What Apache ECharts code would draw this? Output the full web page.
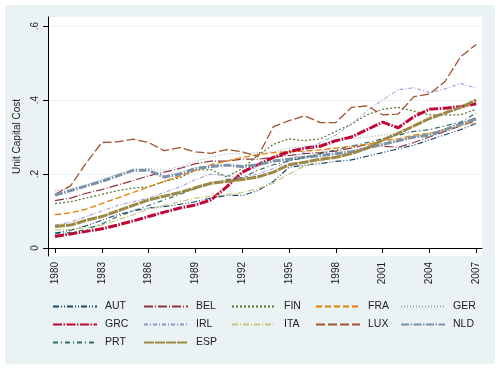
<!DOCTYPE html>
<html>
<head>
<meta charset="utf-8">
<script src="https://cdn.jsdelivr.net/npm/echarts@6/dist/echarts.min.js"></script>
<style>html,body{margin:0;padding:0;background:#fff}#c{width:500px;height:370px}</style>
</head>
<body>
<div id="c"></div>
<script>
var years = [1980,1981,1982,1983,1984,1985,1986,1987,1988,1989,1990,1991,1992,1993,1994,1995,1996,1997,1998,1999,2000,2001,2002,2003,2004,2005,2006,2007];
var xTicks = [1980,1983,1986,1989,1992,1995,1998,2001,2004,2007];
var yTicks = [0,0.2,0.4,0.6];
var yTickLabels = ['0','.2','.4','.6'];

var AUT = [0.040,0.048,0.060,0.075,0.090,0.100,0.108,0.112,0.118,0.125,0.135,0.142,0.142,0.155,0.180,0.218,0.224,0.228,0.234,0.238,0.248,0.258,0.268,0.278,0.292,0.306,0.320,0.337];
var BEL = [0.128,0.135,0.148,0.158,0.170,0.182,0.195,0.205,0.215,0.228,0.235,0.235,0.240,0.240,0.245,0.250,0.255,0.258,0.262,0.270,0.280,0.275,0.272,0.285,0.300,0.315,0.330,0.345];
var FIN = [0.120,0.125,0.135,0.145,0.155,0.162,0.165,0.180,0.190,0.210,0.212,0.192,0.215,0.250,0.280,0.295,0.290,0.295,0.315,0.335,0.360,0.375,0.380,0.370,0.360,0.360,0.360,0.375];
var FRA = [0.090,0.095,0.105,0.120,0.135,0.150,0.165,0.180,0.195,0.210,0.225,0.235,0.245,0.252,0.258,0.260,0.262,0.265,0.270,0.275,0.280,0.290,0.295,0.305,0.310,0.320,0.330,0.350];
var GER = [0.155,0.160,0.170,0.185,0.200,0.210,0.215,0.210,0.220,0.235,0.245,0.255,0.255,0.258,0.260,0.270,0.275,0.280,0.290,0.295,0.300,0.305,0.310,0.315,0.320,0.330,0.340,0.350];
var GRC = [0.031,0.038,0.045,0.052,0.062,0.073,0.085,0.097,0.108,0.116,0.130,0.165,0.205,0.225,0.245,0.260,0.270,0.275,0.290,0.300,0.320,0.340,0.325,0.355,0.375,0.378,0.382,0.390];
var IRL = [0.062,0.070,0.085,0.100,0.115,0.125,0.135,0.150,0.165,0.185,0.200,0.195,0.190,0.200,0.215,0.235,0.260,0.285,0.305,0.335,0.370,0.400,0.428,0.433,0.420,0.430,0.445,0.432];
var ITA = [0.049,0.050,0.055,0.062,0.075,0.090,0.105,0.115,0.125,0.135,0.140,0.145,0.150,0.160,0.175,0.200,0.222,0.235,0.248,0.258,0.270,0.280,0.290,0.300,0.310,0.320,0.330,0.340];
var LUX = [0.145,0.168,0.230,0.285,0.287,0.294,0.285,0.263,0.271,0.260,0.256,0.266,0.260,0.247,0.328,0.344,0.357,0.339,0.339,0.380,0.384,0.360,0.362,0.409,0.416,0.450,0.517,0.550];
var NLD = [0.143,0.155,0.168,0.180,0.195,0.210,0.210,0.192,0.200,0.215,0.220,0.224,0.220,0.225,0.235,0.240,0.245,0.250,0.255,0.260,0.270,0.280,0.290,0.300,0.305,0.320,0.335,0.350];
var PRT = [0.038,0.042,0.050,0.065,0.085,0.100,0.115,0.130,0.145,0.160,0.175,0.185,0.190,0.210,0.225,0.235,0.245,0.255,0.265,0.275,0.285,0.295,0.305,0.315,0.320,0.330,0.340,0.365];
var ESP = [0.058,0.062,0.075,0.085,0.100,0.115,0.130,0.140,0.150,0.163,0.175,0.180,0.185,0.192,0.205,0.225,0.232,0.240,0.245,0.255,0.270,0.292,0.310,0.330,0.350,0.365,0.380,0.400];

var names = ['AUT','BEL','FIN','FRA','GER','GRC','IRL','ITA','LUX','NLD','PRT','ESP'];
var values = [AUT,BEL,FIN,FRA,GER,GRC,IRL,ITA,LUX,NLD,PRT,ESP];

var styles = {
  AUT:{color:'#1a476f',width:1.2,type:[6,2,1,2,1,2]},
  BEL:{color:'#90353b',width:1.2,type:[9,2,1,2]},
  FIN:{color:'#55752f',width:1.2,type:[2,2]},
  FRA:{color:'#e37e00',width:1.3,type:[6,3]},
  GER:{color:'#8fa8b8',width:1.0,type:[1,2]},
  GRC:{color:'#c10534',width:3,type:[9,1.5,1.5,1.5]},
  IRL:{color:'#938dd2',width:1.0,type:[4,2,1,2]},
  ITA:{color:'#cac27e',width:1.2,type:[6,2,1,2]},
  LUX:{color:'#a0522d',width:1.3,type:[9,3]},
  NLD:{color:'#7b92a8',width:3,type:[8,1.5,1.5,1.5]},
  PRT:{color:'#2d6d66',width:1.2,type:[5,3,1,3]},
  ESP:{color:'#9c8847',width:3,type:[10,1]}
};

var font = '"Liberation Sans", Arial, sans-serif';
var series = names.map(function(n,i){
  var s = styles[n];
  return {
    name:n, type:'line', symbol:'none', smooth:false, animation:false,
    lineStyle:{color:s.color,width:s.width,type:s.type},
    itemStyle:{color:s.color},
    data: years.map(function(y,j){return [y, values[i][j]];})
  };
});

var colX = [52,143,231,315,400];
var rowY = [301,319,337];
var legends = names.map(function(n,i){
  return {
    data:[n], left: colX[i%5], top: rowY[Math.floor(i/5)],
    itemWidth:44, itemHeight:10, padding:0, selectedMode:false,
    itemStyle:{opacity:0, borderWidth:0},
    textStyle:{fontFamily:font,fontSize:10.5,color:'#222',padding:[0,0,0,3]}
  };
});

var chart = echarts.init(document.getElementById('c'));
chart.setOption({
  animation:false,
  backgroundColor:'#ffffff',
  graphic:[{type:'rect',shape:{x:5,y:5,width:490,height:359},style:{fill:'#eaf2f3'},z:-10,silent:true}],
  legend: legends,
  grid:{left:48,top:17,width:434,height:239,show:true,backgroundColor:'#ffffff',borderWidth:0},
  xAxis:{
    type:'value', min:1979.55, max:2007.37,
    axisLine:{show:true,lineStyle:{color:'#000',width:1}},
    axisTick:{show:true,length:5,customValues:xTicks,lineStyle:{color:'#000'}},
    axisLabel:{rotate:90,customValues:xTicks,fontFamily:font,fontSize:10,color:'#222',margin:6,
      formatter:function(v){return String(v);}},
    splitLine:{show:false}
  },
  yAxis:{
    type:'value', min:-0.0216, max:0.6243,
    name:'Unit Capital Cost', nameLocation:'middle', nameGap:22, nameRotate:90,
    nameTextStyle:{fontFamily:font,fontSize:10,color:'#222'},
    axisLine:{show:true,lineStyle:{color:'#000',width:1}},
    axisTick:{show:true,length:5,customValues:yTicks,lineStyle:{color:'#000'}},
    axisLabel:{rotate:90,customValues:yTicks,fontFamily:font,fontSize:10,color:'#222',margin:8,
      formatter:function(v){var k=yTicks.indexOf(Math.round(v*10)/10);return k>=0?yTickLabels[k]:'';}},
    splitLine:{show:true,lineStyle:{color:'#eaf2f3',width:1}}
  },
  series: series
});
</script>
</body>
</html>
